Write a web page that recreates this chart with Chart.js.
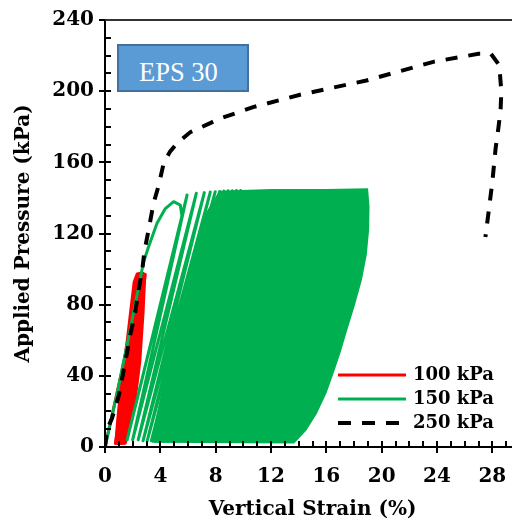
<!DOCTYPE html>
<html><head><meta charset="utf-8">
<script src="https://cdn.jsdelivr.net/npm/chart.js@4.4.0/dist/chart.umd.min.js"></script>
<style>
html,body{margin:0;padding:0;overflow:hidden;background:#fff;width:512px;height:524px}
#wrap{position:relative;width:520px;height:524px}
#c{display:block}
#tag{position:absolute;left:117px;top:44px;width:132px;height:48px;box-sizing:border-box;background:#5B9BD5;border:2px solid #41719C;color:#fff;font-family:"Liberation Serif",serif;font-size:26.5px;line-height:52px;padding-left:20px;overflow:visible;white-space:nowrap}
</style></head><body>
<div id="wrap"><canvas id="c" width="520" height="524"></canvas><div id="tag">EPS 30</div></div>
<script>
// ---- data (strain %, pressure kPa) ----
// 250 kPa monotonic test (dashed)
const dashStrain = [0, 0.15, 0.5, 1.0, 1.47, 1.83, 2.19, 2.45, 2.7, 2.85, 3.15, 3.51, 3.88, 4.24, 4.7, 5.2, 6.17, 7.6, 8.1, 10.7, 14.1, 18.9, 23.8, 27.0, 27.9, 28.5, 28.65, 28.6, 28.45, 28.24, 28.0, 27.76, 27.5];
const dashP      = [0, 10, 16, 29, 48, 63, 76, 89, 100, 110, 122, 137, 147, 159.5, 166, 170.7, 177, 182, 184, 191, 198, 206, 216.6, 221, 221, 214.6, 200, 190, 180, 168, 149, 134, 118];

// 150 kPa cyclic test: first loading, then peaks / residual points of the visible loops
const greenFirstStrain = [0, 0.9, 1.83, 2.79, 3.15, 3.76, 4.36, 4.96, 5.44, 5.57];
const greenFirstP      = [0, 31, 66.5, 104, 112.6, 125.7, 134, 137.9, 136, 129.5];
const greenPeakStrain  = [5.93, 6.6, 7.18, 7.61, 7.97, 8.29, 8.6, 8.9, 9.2, 9.5, 9.8];
const greenPeakP       = [141.6, 142.6, 143, 143.3, 143.5, 143.6, 143.8, 144, 144, 144.2, 144.2];
const greenResStrain   = [1.6, 2.0, 2.4, 2.75, 3.05, 3.35, 3.65, 3.95, 4.25, 4.55, 4.85, 5.15];
const greenResP        = [4, 4, 4, 3.5, 3.5, 3.5, 3, 3, 3, 3, 3, 3];
// outline of the dense (solid) part of the 150 kPa loops
const greenBandStrain = [3.4, 4.4, 5.5, 6.5, 7.4, 8.3, 12, 16, 18.95, 19.05, 19.02, 18.85, 18.5, 18.0, 17.45, 16.95, 16.45, 15.95, 15.25, 14.5, 13.64, 3.4];
const greenBandP      = [3, 40, 80, 110, 132, 143.5, 144.5, 144.5, 144.8, 135, 122, 108, 94, 80, 66, 53, 41.5, 30.5, 19, 9.6, 2.5, 3];

// 100 kPa cyclic test
const redFirstStrain = [0, 1.0, 1.9, 2.6];
const redFirstP      = [0, 35, 67, 97];
const redPeakStrain  = [2.66, 2.72, 2.78, 2.84, 2.91];
const redPeakP       = [97.5, 97.5, 97.5, 97, 97];
const redResStrain   = [0.75, 0.9, 1.05, 1.2, 1.35, 1.47];
const redResP        = [2, 2, 2, 2, 2, 2];
// outline of the solid 100 kPa region
const redBandStrain = [0.75, 0.87, 1.1, 1.59, 2.07, 2.3, 2.6, 2.91, 2.79, 2.55, 2.19, 1.59, 1.47, 0.75];
const redBandP      = [2, 14, 32.8, 60.9, 92.7, 97.5, 98, 97, 75.9, 47.8, 25.3, 8.4, 2, 2];

const seriesLabels = ['100 kPa', '150 kPa', '250 kPa'];
const xMinorTicks = [0,1,2,3,4,5,6,7,8,9,10,11,12,13,14,15,16,17,18,19,20,21,22,23,24,25,26,27,28,29,30];
const yMinorTicks = [0,10,20,30,40,50,60,70,80,90,100,110,120,130,140,150,160,170,180,190,200,210,220,230,240];

const RED = '#FF0000', GREEN = '#00B050', BLACK = '#000000';

function pts(xs, ys) { return xs.map((v, i) => ({x: v, y: ys[i]})); }
function loops(firstX, firstY, peakX, peakY, resX, resY) {
  const out = pts(firstX, firstY);
  out.push({x: resX[0], y: resY[0]});
  for (let i = 0; i < peakX.length; i++) {
    out.push({x: peakX[i], y: peakY[i]});
    out.push({x: resX[i + 1], y: resY[i + 1]});
  }
  return out;
}

const redPath = loops(redFirstStrain, redFirstP, redPeakStrain, redPeakP, redResStrain, redResP);
const greenPath = loops(greenFirstStrain, greenFirstP, greenPeakStrain, greenPeakP, greenResStrain, greenResP);

const serif = 'DejaVu Serif';

const decor = {
  id: 'decor',
  afterDraw(chart) {
    const {ctx, chartArea: a, scales: {x, y}} = chart;
    ctx.save();
    ctx.strokeStyle = '#000';
    ctx.lineWidth = 2;
    ctx.beginPath();
    for (const v of xMinorTicks) {
      const px = Math.round(x.getPixelForValue(v));
      ctx.moveTo(px, a.bottom);
      ctx.lineTo(px, a.bottom - 6);
    }
    for (const v of yMinorTicks) {
      const py = Math.round(y.getPixelForValue(v));
      ctx.moveTo(a.left, py);
      ctx.lineTo(a.left + 6, py);
    }
    ctx.stroke();
    // top frame line
    ctx.strokeStyle = '#333';
    ctx.beginPath();
    ctx.moveTo(a.left, a.top);
    ctx.lineTo(a.right, a.top);
    ctx.stroke();
    // legend
    const ds = chart.data.datasets.filter(d => seriesLabels.includes(d.label));
    ds.sort((p, q) => seriesLabels.indexOf(p.label) - seriesLabels.indexOf(q.label));
    const lx0 = 338, lx1 = 406, tx = 413, ly0 = 375, dy = 24;
    ctx.font = 'bold 18px "' + serif + '"';
    ctx.textBaseline = 'middle';
    ctx.textAlign = 'left';
    ds.forEach((d, i) => {
      const yy = ly0 + i * dy;
      ctx.save();
      ctx.strokeStyle = d.borderColor;
      ctx.lineWidth = d.borderWidth;
      ctx.setLineDash(d.borderDash ? [13, 11] : []);
      ctx.lineCap = 'butt';
      ctx.beginPath();
      ctx.moveTo(lx0, yy);
      ctx.lineTo(lx1, yy);
      ctx.stroke();
      ctx.restore();
      ctx.fillStyle = '#000';
      ctx.fillText(d.label, tx, yy);
    });
    ctx.restore();
  }
};

new Chart(document.getElementById('c'), {
  type: 'scatter',
  data: {
    datasets: [
      {label: '250 kPa', data: pts(dashStrain, dashP), showLine: true, borderColor: BLACK, borderWidth: 4, borderDash: [12, 11], pointRadius: 0, fill: false, order: 1},
      {label: '150 kPa', data: greenPath, showLine: true, borderColor: GREEN, borderWidth: 3, pointRadius: 0, fill: false, order: 2, borderJoinStyle: 'round'},
      {label: '150 kPa band', data: pts(greenBandStrain, greenBandP), showLine: true, borderColor: GREEN, backgroundColor: GREEN, borderWidth: 2, pointRadius: 0, fill: 'shape', order: 3},
      {label: '100 kPa', data: redPath, showLine: true, borderColor: RED, borderWidth: 3, pointRadius: 0, fill: false, order: 4, borderJoinStyle: 'round'},
      {label: '100 kPa band', data: pts(redBandStrain, redBandP), showLine: true, borderColor: RED, backgroundColor: RED, borderWidth: 2, pointRadius: 0, fill: 'shape', order: 5}
    ]
  },
  options: {
    responsive: false,
    devicePixelRatio: 1,
    animation: false,
    events: [],
    layout: {padding: {top: 20, right: 0, bottom: 0, left: 0}},
    plugins: {legend: {display: false}, tooltip: {enabled: false}},
    scales: {
      x: {
        type: 'linear', min: 0, max: 30,
        ticks: {stepSize: 4, includeBounds: false, color: '#000', padding: 12, maxRotation: 0,
          font: {family: serif, weight: 'bold', size: 20}},
        grid: {drawOnChartArea: false, drawTicks: true, tickLength: 6, color: '#000', lineWidth: 2},
        border: {display: true, color: '#000', width: 2},
        title: {display: true, text: 'Vertical Strain (%)', color: '#000', padding: {top: 0, bottom: 2},
          font: {family: serif, weight: 'bold', size: 20}},
        afterFit(s) { s.height = 77; }
      },
      y: {
        type: 'linear', min: 0, max: 240,
        ticks: {stepSize: 40, color: '#000', padding: 5,
          font: {family: serif, weight: 'bold', size: 20}},
        grid: {drawOnChartArea: false, drawTicks: true, tickLength: 6, color: '#000', lineWidth: 2},
        border: {display: true, color: '#000', width: 2},
        title: {display: true, text: 'Applied Pressure (kPa)', color: '#000', padding: {top: 12, bottom: 0},
          font: {family: serif, weight: 'bold', size: 20}},
        afterFit(s) { s.width = 105; }
      }
    }
  },
  plugins: [decor]
});
</script></body></html>
